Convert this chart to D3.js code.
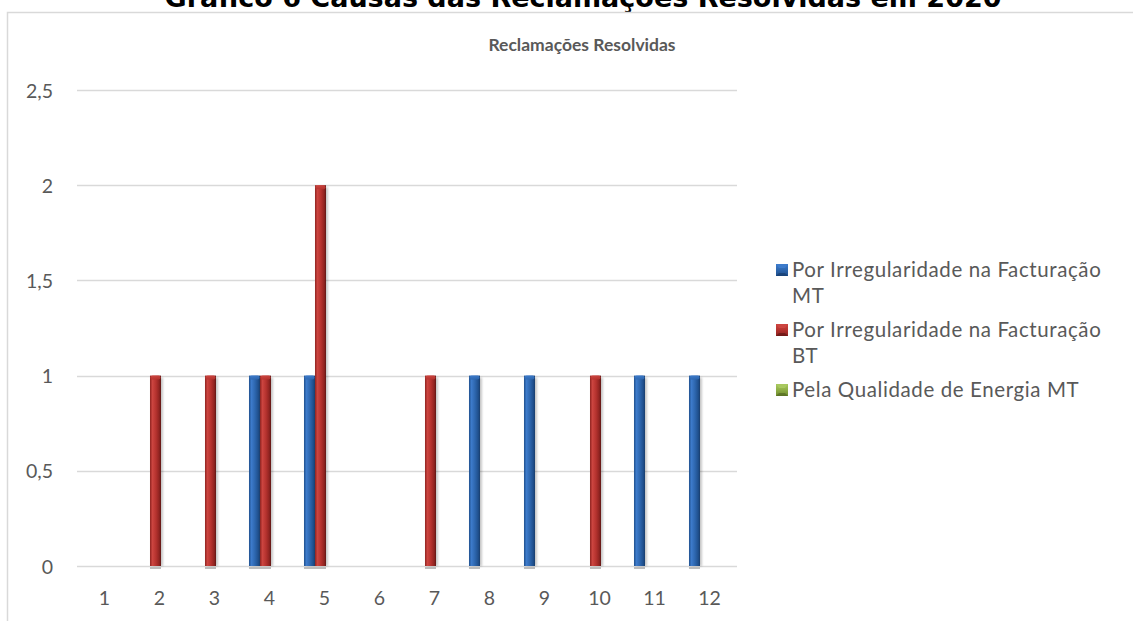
<!DOCTYPE html>
<html>
<head>
<meta charset="utf-8">
<script src="https://cdn.jsdelivr.net/npm/d3@7"></script>
<style>
  html, body { margin: 0; padding: 0; background: #ffffff; }
  svg { display: block; }
</style>
</head>
<body>
<svg id="chart" width="1133" height="621"></svg>
<script>
// ---- data ----
const months = ["1", "2", "3", "4", "5", "6", "7", "8", "9", "10", "11", "12"];
const seriesNames = [
  "Por Irregularidade na Facturação MT",
  "Por Irregularidade na Facturação BT",
  "Pela Qualidade de Energia MT"
];
const irregularidadeMT = [0, 0, 0, 1, 1, 0, 0, 1, 1, 0, 1, 1];
const irregularidadeBT = [0, 1, 1, 1, 2, 0, 1, 0, 0, 1, 0, 0];
const qualidadeEnergiaMT = [0, 0, 0, 0, 0, 0, 0, 0, 0, 0, 0, 0];
const yTicks = [0, 0.5, 1, 1.5, 2, 2.5];

const seriesValues = [irregularidadeMT, irregularidadeBT, qualidadeEnergiaMT];
const palette = [
  { edge: "#163b6b", dark: "#1f4f8c", light: "#3d7bcb", mid: "#2d66ae" },
  { edge: "#5c1412", dark: "#8e2320", light: "#cc4540", mid: "#b5322e" },
  { edge: "#4f6420", dark: "#6f8a2e", light: "#a8c85f", mid: "#8eae45" }
];

const svg = d3.select("#chart");
const defs = svg.append("defs");

// horizontal shading for the bevelled columns
palette.forEach((c, i) => {
  const g = defs.append("linearGradient").attr("id", "col" + i)
    .attr("x1", "0").attr("x2", "1").attr("y1", "0").attr("y2", "0");
  [[0, c.dark], [0.22, c.light], [0.55, c.mid], [0.85, c.dark], [1, c.edge]]
    .forEach(([o, col]) => g.append("stop").attr("offset", o).attr("stop-color", col));
  const cap = defs.append("linearGradient").attr("id", "cap" + i)
    .attr("x1", "0").attr("x2", "0").attr("y1", "0").attr("y2", "1");
  [[0, c.light], [1, c.mid]]
    .forEach(([o, col]) => cap.append("stop").attr("offset", o).attr("stop-color", col));
  const key = defs.append("linearGradient").attr("id", "key" + i)
    .attr("x1", "0").attr("x2", "0").attr("y1", "0").attr("y2", "1");
  [[0, c.light], [0.5, c.mid], [1, c.dark]]
    .forEach(([o, col]) => key.append("stop").attr("offset", o).attr("stop-color", col));
});
const blur = defs.append("filter").attr("id", "soft").attr("x", "-50%").attr("width", "200%");
blur.append("feGaussianBlur").attr("stdDeviation", 1.2);

// ---- frame and titles ----
svg.append("text")
  .attr("x", 583).attr("y", 7)
  .attr("text-anchor", "middle")
  .attr("font-family", "DejaVu Sans, sans-serif")
  .attr("font-weight", "bold")
  .attr("font-size", 27)
  .attr("fill", "#000")
  .text("Gráfico 6 Causas das Reclamações Resolvidas em 2020");

svg.append("rect")
  .attr("x", 7.5).attr("y", 12.5)
  .attr("width", 1140).attr("height", 620)
  .attr("fill", "none")
  .attr("stroke", "#d9d9d9")
  .attr("stroke-width", 1.5);

svg.append("text")
  .attr("x", 582).attr("y", 51)
  .attr("text-anchor", "middle")
  .attr("font-family", "Lato, sans-serif")
  .attr("font-weight", "bold")
  .attr("font-size", 17.5)
  .attr("fill", "#595959")
  .text("Reclamações Resolvidas");

// ---- scales ----
const plot = { left: 77, right: 737, top: 90, bottom: 566 };
const x = d3.scaleBand().domain(months).range([plot.left, plot.right]).padding(0);
const bw = x.bandwidth();
const xs = d3.scaleBand().domain(d3.range(seriesNames.length))
  .range([bw * 0.127, bw * 0.727]).padding(0);
const y = d3.scaleLinear().domain([0, 2.5]).range([plot.bottom, plot.top]);

// gridlines
svg.append("g").selectAll("line").data(yTicks).join("line")
  .attr("x1", plot.left).attr("x2", plot.right)
  .attr("y1", d => Math.round(y(d)) + 0.5).attr("y2", d => Math.round(y(d)) + 0.5)
  .attr("stroke", "#d9d9d9").attr("stroke-width", 1.3);

// y axis labels
const yAxis = d3.axisLeft(y).tickValues(yTicks).tickSize(0).tickPadding(0)
  .tickFormat(d => String(d).replace(".", ","));
svg.append("g").attr("transform", `translate(${plot.left - 24},0)`).call(yAxis)
  .call(g => g.select(".domain").remove())
  .call(g => g.selectAll("text")
    .attr("font-family", "Lato, sans-serif").attr("font-size", 19.5)
    .attr("fill", "#595959").attr("dy", "0.36em"));

// x axis labels
const xAxis = d3.axisBottom(x).tickSize(0).tickPadding(0);
svg.append("g").attr("transform", `translate(0,${plot.bottom + 25})`).call(xAxis)
  .call(g => g.select(".domain").remove())
  .call(g => g.selectAll("text")
    .attr("font-family", "Lato, sans-serif").attr("font-size", 19.5)
    .attr("fill", "#595959").attr("dy", "0.72em"));

// ---- columns ----
const cells = [];
seriesValues.forEach((vals, s) => vals.forEach((v, m) => {
  if (v > 0) cells.push({ s, m: months[m], v });
}));
const w = xs.bandwidth();
const bars = svg.append("g").selectAll("g").data(cells).join("g")
  .attr("transform", d => `translate(${x(d.m) + xs(d.s)},0)`);

// soft shadow to the right
bars.append("rect")
  .attr("x", 2).attr("y", d => y(d.v) + 2)
  .attr("width", w).attr("height", d => y(0) - y(d.v) - 2)
  .attr("fill", "#000").attr("opacity", 0.22).attr("filter", "url(#soft)");
// reflection line under the base
bars.append("rect")
  .attr("x", 0).attr("y", y(0) + 1)
  .attr("width", w).attr("height", 2)
  .attr("fill", "#bdbdbd");
bars.append("rect")
  .attr("x", 0).attr("y", d => y(d.v))
  .attr("width", w).attr("height", d => y(0) - y(d.v))
  .attr("fill", d => `url(#col${d.s})`);
// bevelled top
bars.append("rect")
  .attr("x", 0.5).attr("y", d => y(d.v))
  .attr("width", w - 1).attr("height", 4).attr("rx", 2)
  .attr("fill", d => `url(#cap${d.s})`).attr("opacity", 0.9);

// ---- legend ----
const legend = svg.append("g");
const lx = 792, lineH = 26, entryGap = 8, maxW = 330;
const legendFont = { size: 20.5, spacing: 0.6 };
let ly = 270;
seriesNames.forEach((name, i) => {
  const styleText = sel => sel.attr("font-family", "Lato, sans-serif")
    .attr("font-size", legendFont.size).attr("letter-spacing", legendFont.spacing);
  const t = legend.append("text").call(styleText).attr("fill", "#595959");
  // greedy word wrap
  const words = name.split(" ");
  const lines = [];
  let cur = "";
  const probe = legend.append("text").call(styleText).attr("visibility", "hidden");
  words.forEach(wd => {
    const test = cur ? cur + " " + wd : wd;
    probe.text(test);
    if (probe.node().getComputedTextLength() > maxW && cur) { lines.push(cur); cur = wd; }
    else cur = test;
  });
  lines.push(cur);
  probe.remove();
  lines.forEach((ln, k) => t.append("tspan")
    .attr("x", lx).attr("y", ly + k * lineH).attr("dy", "0.36em").text(ln));
  // bevelled key square
  const k = legend.append("g").attr("transform", `translate(776,${ly - 6})`);
  k.append("rect").attr("width", 12).attr("height", 12).attr("fill", `url(#key${i})`);
  k.append("path").attr("d", "M0,0 L12,0 L9,4 L3,4 Z").attr("fill", palette[i].light);
  k.append("path").attr("d", "M0,12 L12,12 L9,9 L3,9 Z").attr("fill", palette[i].edge).attr("opacity", 0.6);
  ly += lines.length * lineH + entryGap;
});
</script>
</body>
</html>
